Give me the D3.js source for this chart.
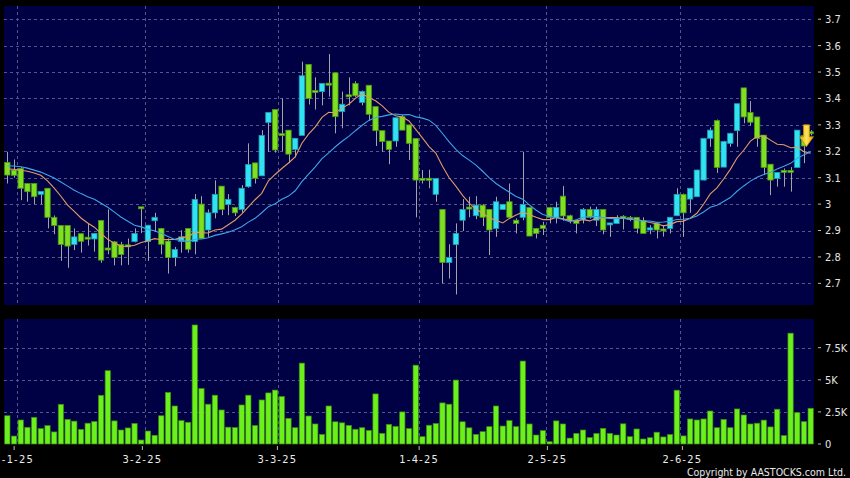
<!DOCTYPE html>
<html><head><meta charset="utf-8">
<script src="https://cdn.jsdelivr.net/npm/d3@7"></script>
<style>html,body{margin:0;padding:0;background:#000;}svg{display:block}</style>
</head><body><svg id="c" width="850" height="478"></svg>
<script>
// Daily bars 31-12-24 .. 30-6-25 (121 sessions)
const openP = [3.158,3.129,3.135,3.078,3.078,3.037,3.06,2.95,2.919,2.919,
2.847,2.888,2.871,2.868,2.938,2.830,2.857,2.847,2.842,2.858,
2.986,2.858,2.937,2.908,2.86,2.798,2.858,2.908,2.858,3.0,
2.902,2.967,3.068,2.999,2.987,2.98,3.066,3.156,3.107,3.309,
3.358,3.263,3.28,3.207,3.26,3.529,3.426,3.426,3.454,3.497,
3.35,3.41,3.457,3.385,3.45,3.369,3.278,3.239,3.239,3.331,
3.30,3.249,3.094,3.094,3.037,2.98,2.779,2.847,2.939,2.985,
2.956,2.996,2.98,2.908,2.98,3.009,2.939,2.95,2.987,2.908,
2.92,2.987,2.95,3.03,2.956,2.939,2.942,2.98,2.939,2.98,
2.921,2.927,2.95,2.95,2.95,2.937,2.902,2.927,2.902,2.908,
2.956,3.037,3.019,3.028,3.091,3.249,3.316,3.14,3.23,3.278,
3.44,3.347,3.33,3.261,3.151,3.097,3.124,3.124,3.139,3.26,
3.27];
const highP = [3.198,3.169,3.14,3.078,3.078,3.048,3.06,2.957,2.919,2.919,
2.908,2.888,2.927,2.889,2.94,2.98,2.86,2.857,2.87,2.908,
2.988,2.92,2.967,2.91,2.87,2.838,2.901,2.908,3.038,3.03,
2.98,3.09,3.068,3.038,2.99,3.072,3.23,3.156,3.28,3.347,
3.358,3.40,3.28,3.25,3.539,3.53,3.48,3.457,3.568,3.497,
3.426,3.48,3.465,3.43,3.45,3.369,3.278,3.239,3.327,3.337,
3.30,3.249,3.129,3.13,3.097,2.98,2.848,2.927,3.019,3.028,
3.03,3.0,2.98,3.028,3.0,3.078,2.946,3.198,2.987,2.91,
2.933,2.99,3.009,3.068,2.96,2.94,2.985,2.99,2.99,2.98,
2.925,2.958,2.958,2.955,2.95,2.95,2.92,2.927,2.92,2.95,
3.06,3.04,3.06,3.13,3.25,3.29,3.32,3.24,3.27,3.38,
3.44,3.39,3.33,3.261,3.151,3.12,3.135,3.14,3.28,3.27,
3.28];
const lowP = [3.078,3.10,3.015,3.009,2.999,2.999,2.908,2.886,2.785,2.759,
2.826,2.816,2.843,2.82,2.778,2.81,2.768,2.768,2.77,2.855,
2.89,2.785,2.895,2.81,2.737,2.765,2.816,2.816,2.81,2.87,
2.876,2.946,2.958,2.958,2.955,2.967,3.062,3.078,3.107,3.198,
3.195,3.20,3.155,3.177,3.26,3.377,3.358,3.374,3.407,3.268,
3.287,3.374,3.405,3.374,3.316,3.22,3.198,3.151,3.217,3.28,
3.167,2.95,3.078,3.06,3.009,2.70,2.718,2.658,2.898,2.95,
2.943,2.917,2.807,2.876,2.98,2.95,2.889,2.939,2.879,2.87,
2.883,2.927,2.927,2.937,2.927,2.889,2.927,2.945,2.917,2.886,
2.876,2.925,2.904,2.935,2.889,2.889,2.886,2.87,2.877,2.889,
2.955,2.876,2.967,3.028,3.09,3.217,3.118,3.14,3.217,3.217,
3.306,3.297,3.217,3.11,3.034,3.066,3.066,3.047,3.139,3.155,
3.26];
const closeP = [3.11,3.109,3.06,3.047,3.028,3.048,2.95,2.919,2.847,2.841,
2.876,2.859,2.869,2.889,2.788,2.828,2.798,2.809,2.84,2.889,
2.981,2.92,2.95,2.848,2.798,2.828,2.876,2.829,3.018,2.87,
2.967,3.037,2.98,3.018,2.967,3.06,3.15,3.098,3.26,3.347,
3.205,3.263,3.189,3.249,3.486,3.40,3.426,3.457,3.454,3.331,
3.378,3.41,3.41,3.426,3.34,3.278,3.237,3.207,3.327,3.28,
3.23,3.091,3.094,3.094,3.097,2.779,2.798,2.889,2.98,2.985,
2.996,2.95,2.902,3.009,2.999,2.95,2.927,2.999,2.879,2.889,
2.908,2.95,2.987,2.955,2.939,2.927,2.98,2.95,2.98,2.902,
2.925,2.946,2.95,2.942,2.908,2.889,2.91,2.902,2.902,2.95,
3.037,2.967,3.06,3.129,3.249,3.28,3.139,3.237,3.268,3.38,
3.33,3.31,3.249,3.139,3.091,3.12,3.124,3.124,3.28,3.22,
3.268];
// volume in thousands of shares
const volumeK = [2.2,0.62,1.87,1.3,2.08,1.2,1.43,0.94,3.09,1.92,
1.78,1.14,1.62,1.75,3.79,5.71,1.8,1.09,1.25,1.6,
0.31,1.01,0.68,2.2,4.02,2.96,1.82,1.69,9.27,4.32,
3.1,3.8,2.65,1.31,1.28,3.04,3.8,1.44,3.43,3.98,
4.2,3.7,2.0,1.27,6.3,2.18,1.56,0.75,2.96,1.73,
1.65,1.45,1.15,1.27,1.06,3.9,0.83,1.53,1.37,2.5,
1.2,6.14,0.57,1.46,1.6,3.2,3.1,4.98,1.73,1.26,
0.75,0.96,1.35,2.96,1.4,1.82,1.35,6.46,1.56,0.7,
1.04,0.18,1.8,1.56,0.46,0.83,1.09,0.5,0.82,1.22,
0.83,0.7,1.57,0.57,1.17,0.39,0.49,0.92,0.55,0.74,
4.19,0.63,1.95,1.87,1.95,2.57,1.27,1.92,1.27,2.73,
2.26,1.56,1.62,1.86,1.33,2.71,0.66,8.63,2.44,1.74,
2.78];
// closes of the 19 sessions before the window (only used to seed the moving averages)
const priorCloses = [3.10,3.12,3.15,3.18,3.20,3.17,3.14,3.16,3.15,3.18,
3.12,3.10,3.08,3.10,3.13,3.16,3.20,3.15,3.18];
const tickIndex = [1,20,40,61,80,100];
const tickLabels = ["2-1-25","3-2-25","3-3-25","1-4-25","2-5-25","2-6-25"];
const priceTicks = [2.7,2.8,2.9,3.0,3.1,3.2,3.3,3.4,3.5,3.6,3.7];
const priceTickLabels = ["2.7","2.8","2.9","3","3.1","3.2","3.3","3.4","3.5","3.6","3.7"];
const volTicks = [0,2.5,5,7.5];
const volTickLabels = ["0","2.5K","5K","7.5K"];
const maPeriods = [10,20];

const N = closeP.length;
const svg = d3.select("#c");
const L = 4, R = 814, PT = 6, PB = 305, VT = 319, VB = 444;
const navy = "#000044", gridC = "#55558c";
const font = "'DejaVu Sans Condensed','DejaVu Sans',sans-serif";

const x = d3.scaleBand().domain(d3.range(N)).range([L, R]).padding(0);
const bw = x.bandwidth();
const cx = i => x(i) + bw / 2;
const xt = d3.scaleLinear().domain([-0.5, 119.5]).range([L, R]);
const y = d3.scaleLinear().domain([2.618, 3.750]).range([PB, PT]);
const yv = d3.scaleLinear().domain([0, 9.735]).range([VB, VT]);

svg.append("rect").attr("width", 850).attr("height", 478).attr("fill", "#000");
svg.append("rect").attr("x", L).attr("y", PT).attr("width", R - L).attr("height", PB - PT).attr("fill", navy);
svg.append("rect").attr("x", L).attr("y", VT).attr("width", R - L).attr("height", VB - VT).attr("fill", navy);

const grid = svg.append("g").attr("stroke", gridC).attr("stroke-width", 1).attr("stroke-dasharray", "3,3").attr("shape-rendering", "crispEdges");
priceTicks.forEach(t => grid.append("line").attr("x1", L).attr("x2", R).attr("y1", Math.round(y(t)) + 0.5).attr("y2", Math.round(y(t)) + 0.5));
volTicks.slice(1).forEach(t => grid.append("line").attr("x1", L).attr("x2", R).attr("y1", Math.round(yv(t)) + 0.5).attr("y2", Math.round(yv(t)) + 0.5));
tickIndex.forEach(i => {
  const gx = Math.round(x(i) + bw) + 0.5;
  grid.append("line").attr("x1", gx).attr("x2", gx).attr("y1", PT).attr("y2", PB);
  grid.append("line").attr("x1", gx).attr("x2", gx).attr("y1", VT).attr("y2", VB);
});

// volume bars
svg.append("g").selectAll("rect").data(d3.range(N)).join("rect")
  .attr("x", i => x(i) + 0.7).attr("width", bw - 1.4)
  .attr("y", i => yv(volumeK[i])).attr("height", i => VB - yv(volumeK[i]))
  .attr("fill", "#6cf01c").attr("stroke", "#3a8a12").attr("stroke-width", 0.7);

// moving averages
const allC = priorCloses.concat(closeP);
const off = priorCloses.length;
const maColors = {10: "#e39a66", 20: "#3fa4e6"};

// wicks
svg.append("g").selectAll("line").data(d3.range(N)).join("line")
  .attr("x1", i => Math.round(cx(i)) + 0.5).attr("x2", i => Math.round(cx(i)) + 0.5)
  .attr("y1", i => y(highP[i])).attr("y2", i => y(lowP[i]))
  .attr("stroke", "#a4a4a4").attr("stroke-width", 1);

// bodies
const bodyW = bw * 0.8;
svg.append("g").selectAll("rect").data(d3.range(N)).join("rect")
  .attr("x", i => cx(i) - bodyW / 2).attr("width", bodyW)
  .attr("y", i => Math.min(y(openP[i]), y(closeP[i])) - (Math.abs(y(openP[i]) - y(closeP[i])) < 2 ? 1 : 0))
  .attr("height", i => Math.max(2, Math.abs(y(openP[i]) - y(closeP[i]))))
  .attr("fill", i => closeP[i] > openP[i] ? "#30e2f2" : "#7ee020")
  .attr("stroke", i => closeP[i] > openP[i] ? "#1e9cb0" : "#4c9616")
  .attr("stroke-width", 0.8);

maPeriods.forEach(p => {
  const vals = d3.range(N).map(i => d3.mean(allC.slice(i + off - p + 1, i + off + 1)));
  svg.append("path").datum(vals)
    .attr("d", d3.line().x((v, i) => cx(i)).y(v => y(v)))
    .attr("fill", "none").attr("stroke", maColors[p]).attr("stroke-width", 1.1);
});

// yellow down arrow over the latest bars
const ax = cx(N - 2) + 2.5, aTop = y(3.30), aBot = y(3.218), aMid = y(3.255);
const arrow = d3.path();
arrow.moveTo(ax - 3, aTop); arrow.lineTo(ax + 3, aTop); arrow.lineTo(ax + 3, aMid);
arrow.lineTo(ax + 7, aMid); arrow.lineTo(ax, aBot); arrow.lineTo(ax - 7, aMid);
arrow.lineTo(ax - 3, aMid); arrow.closePath();
const defs = svg.append("defs");
const lg = defs.append("linearGradient").attr("id", "ag").attr("x1", 0).attr("x2", 1).attr("y1", 0).attr("y2", 0);
lg.append("stop").attr("offset", "0%").attr("stop-color", "#e0a800");
lg.append("stop").attr("offset", "50%").attr("stop-color", "#ffe35a");
lg.append("stop").attr("offset", "100%").attr("stop-color", "#e0a800");
svg.append("path").attr("d", arrow.toString()).attr("fill", "url(#ag)").attr("stroke", "#c88a00").attr("stroke-width", 0.8);

// right axes
const ax1 = svg.append("g").attr("font-family", font).attr("font-size", 11).attr("fill", "#e4e4e4");
priceTicks.forEach((t, k) => {
  ax1.append("line").attr("x1", 818).attr("x2", 821).attr("y1", y(t)).attr("y2", y(t)).attr("stroke", "#bbb");
  ax1.append("text").attr("x", 825).attr("y", y(t)).attr("dy", "0.36em").text(priceTickLabels[k]);
});
volTicks.forEach((t, k) => {
  ax1.append("line").attr("x1", 818).attr("x2", 821).attr("y1", yv(t)).attr("y2", yv(t)).attr("stroke", "#bbb");
  ax1.append("text").attr("x", 825).attr("y", yv(t)).attr("dy", "0.36em").text(volTickLabels[k]);
});

// bottom axis
const bx = svg.append("g").attr("font-family", font).attr("font-size", 11).attr("fill", "#ececec");
tickIndex.forEach((i, k) => {
  const tx = xt(i);
  bx.append("line").attr("x1", tx).attr("x2", tx).attr("y1", 446).attr("y2", 450).attr("stroke", "#bbb");
  bx.append("text").attr("x", tx).attr("y", 463).attr("text-anchor", "middle").attr("letter-spacing", "1.2px").text(tickLabels[k]);
});
svg.append("text").attr("x", 846).attr("y", 476).attr("text-anchor", "end")
  .attr("font-family", font).attr("font-size", 10.5).attr("fill", "#e8e8e8")
  .text("Copyright by AASTOCKS.com Ltd.");
</script></body></html>
